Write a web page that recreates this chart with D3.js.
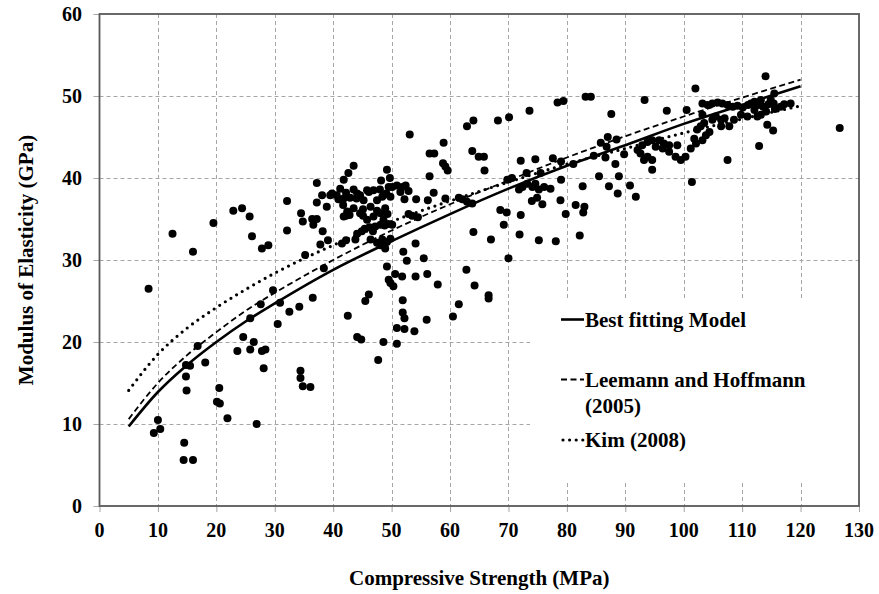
<!DOCTYPE html>
<html>
<head>
<meta charset="utf-8">
<script src="https://cdn.jsdelivr.net/npm/d3@7/dist/d3.min.js"></script>
<style>
  html, body { margin: 0; padding: 0; background: #fff; }
  svg { display: block; }
  svg text { font-family: "Liberation Serif", "Times New Roman", serif; font-weight: bold; fill: #000; }
</style>
</head>
<body>
<svg id="chart" width="879" height="594"></svg>
<script>
// Axis ticks
const strengthTicks = [0, 10, 20, 30, 40, 50, 60, 70, 80, 90, 100, 110, 120, 130];
const modulusTicks = [0, 10, 20, 30, 40, 50, 60];

// Test results: [compressive strength (MPa), modulus of elasticity (GPa)]
const specimens = [
  [8.4,26.5],[9.3,8.9],[10.0,10.5],[10.4,9.4],[12.5,33.2],[14.4,5.6],[14.5,7.7],[14.8,15.8],
  [14.9,14.1],[14.8,17.2],[15.5,17.1],[16.0,5.6],[16.0,31.0],[16.8,19.5],[18.1,17.5],[19.5,34.5],
  [20.1,12.7],[20.6,12.5],[20.5,14.4],[21.9,10.7],[22.9,36.0],[23.6,18.9],[24.4,36.3],[24.6,20.6],
  [25.7,35.3],[25.8,19.1],[25.8,22.9],[26.1,32.9],[26.4,20.0],[26.9,10.0],[27.6,24.6],[27.8,31.4],
  [27.8,18.9],[28.4,19.1],[28.1,16.8],[28.9,31.8],[29.7,26.3],
  [30.5,22.2],[30.9,24.8],[32.1,37.2],[32.1,33.6],[32.5,23.7],[34.2,24.3],[34.4,16.5],[34.4,15.6],
  [34.5,35.7],[34.8,34.7],[34.8,14.6],[35.2,30.6],[36.1,14.5],[36.4,35.0],[36.5,25.4],[36.6,34.3],
  [37.2,35.0],[37.2,37.0],[37.2,39.4],[37.8,31.9],[38.1,37.9],[38.2,33.5],[38.4,29.0],[38.9,36.5],
  [39.1,32.4],[39.5,37.9],[39.8,38.1],
  [40.6,37.9],[40.9,37.4],[41.2,38.7],[41.5,32.0],[41.7,36.7],[41.8,39.8],[41.8,37.5],[41.8,35.3],
  [42.2,38.2],[42.2,35.4],[42.2,32.4],[42.4,35.9],[42.5,23.2],[42.6,40.6],[42.8,35.5],[42.9,37.6],
  [43.5,41.5],[43.5,38.6],[43.5,36.3],[43.8,32.5],[44.1,38.1],[44.0,37.5],[44.1,33.2],[44.1,20.6],
  [44.6,35.7],[44.6,37.9],[44.8,20.3],[44.9,33.5],[45.1,36.2],[45.1,35.4],[45.2,37.3],[45.4,33.8],
  [45.5,25.0],[45.8,34.9],[45.8,38.5],[46.1,25.8],[46.1,38.3],[46.2,34.0],[46.4,36.5],[46.4,32.5],
  [46.8,33.5],[46.9,38.5],[46.9,35.3],[47.2,34.1],[47.5,36.0],[47.5,37.3],[47.5,32.1],[47.7,17.8],
  [48.0,38.6],[48.1,35.7],[48.1,34.3],[48.1,31.8],[48.2,39.7],[48.4,32.5],[48.4,37.7],[48.6,37.9],
  [48.6,34.9],[48.6,20.0],[48.8,34.2],[48.9,36.3],[48.9,31.4],[49.1,38.1],[49.2,41.0],[49.2,32.2],
  [49.2,29.2],[49.3,35.6],[49.4,34.4],[49.5,27.6],[49.5,38.9],[49.7,40.0],[49.8,37.7],[49.8,32.6],
  [49.8,27.2],[50.1,38.9],[50.1,34.3],[50.3,26.8],[50.6,28.3],[50.9,39.1],[50.9,21.7],[50.9,19.8],
  [51.5,38.3],[51.8,38.9],[51.8,28.0],[51.9,25.1],[51.9,23.6],[52.0,31.0],[52.4,39.1],[52.2,37.4],
  [52.2,22.9],[52.2,21.6],[52.6,29.9],[52.9,38.4],[52.9,35.6],[53.1,45.3],[53.5,35.4],[53.9,21.3],
  [54.1,32.0],[54.1,28.0],[54.2,37.4],[54.5,35.2],[55.5,30.2],[56.0,22.7],[56.1,28.3],[56.2,37.3],
  [56.5,40.2],[56.5,43.0],[57.3,43.0],[57.2,38.2],[57.9,27.0],[58.8,41.8],[58.9,44.3],[59.2,41.4],
  [59.6,40.9],[59.2,37.5],
  [60.5,23.1],[61.5,24.6],[61.5,37.6],[62.1,37.4],[62.8,28.8],[62.9,46.3],[62.9,37.1],[63.8,43.3],
  [63.8,36.9],[64.0,47.0],[64.0,33.4],[64.2,26.9],[64.9,42.6],[65.8,42.6],[65.9,40.9],[66.6,25.7],
  [66.6,25.3],[67.0,32.5],[68.2,47.0],[68.6,36.1],[69.2,34.3],[69.7,35.8],[69.8,39.8],[70.0,30.2],
  [70.1,47.4],
  [70.6,40.0],[71.8,38.6],[71.9,33.1],[72.1,42.1],[72.1,35.5],[72.4,38.9],[73.1,40.6],[73.2,39.3],
  [73.6,48.2],[74.0,37.2],[74.1,38.9],[74.6,42.3],[74.6,39.3],[74.9,37.6],[75.2,32.4],[75.2,38.6],
  [75.5,40.6],[75.8,36.8],[76.1,38.9],[77.2,38.7],[77.6,42.4],[78.1,32.3],[78.4,49.2],[78.9,37.3],
  [79.0,42.0],[79.0,39.8],[79.4,49.4],[79.8,35.6],
  [81.1,41.7],[81.5,36.7],[82.2,33.0],[82.7,39.0],[82.8,35.8],[83.0,36.5],[83.2,49.9],[84.1,49.9],
  [84.6,42.7],[85.5,40.2],[85.8,44.3],[86.6,42.5],[86.8,43.8],[87.0,45.0],[87.2,39.0],[87.6,47.8],
  [88.3,41.7],[88.5,44.7],[88.7,38.1],[88.9,40.2],[89.8,42.9],
  [90.8,39.1],[91.8,37.7],[92.1,43.4],[92.6,43.0],[92.9,44.0],[93.2,42.2],[93.3,49.5],[93.8,44.4],
  [93.8,42.6],[94.6,44.6],[94.6,42.2],[94.6,41.0],[95.2,43.8],[95.8,44.6],[96.4,43.6],[96.6,44.2],
  [97.1,48.2],[97.5,43.2],[97.5,44.0],[98.6,42.6],[98.9,44.0],[99.5,42.2],
  [100.3,42.6],[100.5,48.3],[101.2,43.6],[101.4,39.5],[101.8,44.8],[102.0,50.9],[102.1,44.2],[102.3,45.9],
  [102.9,46.3],[103.2,49.1],[103.2,47.7],[103.2,44.6],[103.5,46.7],[103.8,45.2],[104.1,48.9],[104.4,45.6],
  [104.9,49.1],[104.9,47.1],[105.5,47.5],[105.8,49.2],[106.4,47.1],[106.4,46.3],[106.6,49.1],[107.0,47.3],
  [107.5,48.9],[107.5,42.2],[107.8,46.3],[108.4,48.7],[108.6,47.1],[109.2,48.8],[109.8,47.7],
  [110.1,48.6],[110.9,47.5],[111.0,48.9],[111.5,49.1],[112.1,49.3],[112.1,48.3],[112.6,47.5],[112.7,48.9],
  [112.9,43.9],[113.2,47.7],[113.2,49.5],[113.6,48.7],[114.0,52.4],[114.1,48.1],[114.3,46.5],[114.5,49.0],
  [114.9,49.5],[115.3,45.8],[115.4,49.1],[115.5,50.3],[115.6,48.4],[116.6,48.7],[117.2,49.0],[118.3,49.1],
  [126.7,46.1]
];

// Model predictions sampled along the strength range
const modelStrength = [5, 10, 15, 20, 25, 30, 40, 50, 60, 70, 80, 90, 100, 110, 120];
const bestFitting   = [9.7, 13.9, 17.2, 20.0, 22.5, 24.7, 28.8, 32.3, 35.6, 38.7, 41.5, 44.0, 46.6, 48.9, 51.2];
const leemann2005   = [10.6, 15.0, 18.4, 21.2, 23.8, 26.0, 30.0, 33.6, 36.8, 39.7, 42.5, 45.1, 47.5, 49.8, 52.0];
const kim2008       = [14.1, 18.5, 21.7, 24.2, 26.4, 28.4, 31.8, 34.7, 37.2, 39.5, 41.7, 43.6, 45.5, 47.2, 48.8];

const models = [
  { name: "Best fitting Model", values: bestFitting, style: "solid" },
  { name: "Leemann and Hoffmann", name2: "(2005)", values: leemann2005, style: "dashed" },
  { name: "Kim (2008)", values: kim2008, style: "dotted" }
];

const svg = d3.select("#chart");
const plot = { left: 99.5, right: 859, top: 14, bottom: 506 };

const x = d3.scaleLinear().domain([0, 130]).range([plot.left, plot.right]);
const y = d3.scaleLinear().domain([0, 60]).range([plot.bottom, plot.top]);

svg.append("rect").attr("width", 879).attr("height", 594).attr("fill", "#fff");

// Dashed grid
const grid = svg.append("g").attr("stroke", "#a6a6a6").attr("stroke-width", 1)
  .attr("stroke-dasharray", "4,3").attr("fill", "none");
grid.selectAll("line.v").data(strengthTicks.slice(1, -1)).join("line")
  .attr("x1", d => Math.round(x(d)) + 0.5).attr("x2", d => Math.round(x(d)) + 0.5)
  .attr("y1", plot.top).attr("y2", plot.bottom);
grid.selectAll("line.h").data(modulusTicks.slice(1, -1)).join("line")
  .attr("y1", d => Math.round(y(d)) + 0.5).attr("y2", d => Math.round(y(d)) + 0.5)
  .attr("x1", plot.left).attr("x2", plot.right);

// Legend panel hides the grid behind it
svg.append("rect").attr("x", 530).attr("y", 300).attr("width", 328).attr("height", 181).attr("fill", "#fff");

// Axis ticks
const xAxis = d3.axisBottom(x).tickValues(strengthTicks).tickSize(6).tickFormat("");
svg.append("g").attr("transform", `translate(0,${plot.bottom})`).call(xAxis)
  .call(g => g.select(".domain").remove())
  .call(g => g.selectAll(".tick line").attr("stroke", "#a6a6a6"));
const yAxis = d3.axisLeft(y).tickValues(modulusTicks).tickSize(6).tickFormat("");
svg.append("g").attr("transform", `translate(${plot.left},0)`).call(yAxis)
  .call(g => g.select(".domain").remove())
  .call(g => g.selectAll(".tick line").attr("stroke", "#a6a6a6"));

// Plot frame
svg.append("rect").attr("x", plot.left).attr("y", plot.top)
  .attr("width", plot.right - plot.left).attr("height", plot.bottom - plot.top)
  .attr("fill", "none").attr("stroke", "#595959").attr("stroke-width", 1.8);

// Tick labels
svg.append("g").selectAll("text").data(strengthTicks).join("text")
  .attr("x", d => x(d)).attr("y", 537).attr("text-anchor", "middle")
  .attr("font-size", 20).text(d => d);
svg.append("g").selectAll("text").data(modulusTicks).join("text")
  .attr("x", 82).attr("y", d => y(d)).attr("dy", "0.34em").attr("text-anchor", "end")
  .attr("font-size", 20).text(d => d);

// Data points
svg.append("g").selectAll("circle").data(specimens).join("circle")
  .attr("cx", d => x(d[0])).attr("cy", d => y(d[1])).attr("r", 4).attr("fill", "#000");

// Model curves
const styles = {
  solid:  { width: 2.6, dash: null, cap: "butt" },
  dashed: { width: 1.8, dash: "6,3.5", cap: "butt" },
  dotted: { width: 3.2, dash: "0,6.6", cap: "round" }
};
const line = d3.line().x(d => x(d[0])).y(d => y(d[1])).curve(d3.curveMonotoneX);
models.forEach(m => {
  const s = styles[m.style];
  svg.append("path")
    .datum(modelStrength.map((v, i) => [v, m.values[i]]))
    .attr("d", line).attr("fill", "none").attr("stroke", "#000")
    .attr("stroke-width", s.width).attr("stroke-linecap", s.cap)
    .attr("stroke-dasharray", s.dash);
});

// Legend
const legendRows = [319.5, 379.5, 440];
models.forEach((m, i) => {
  const s = styles[m.style];
  const yy = legendRows[i];
  svg.append("line").attr("x1", m.style === "dotted" ? 563 : 561).attr("x2", 584)
    .attr("y1", yy).attr("y2", yy).attr("stroke", "#000")
    .attr("stroke-width", s.width).attr("stroke-linecap", s.cap)
    .attr("stroke-dasharray", s.dash);
  svg.append("text").attr("x", 585).attr("y", yy + 7).attr("font-size", 21).text(m.name);
  if (m.name2) {
    svg.append("text").attr("x", 585).attr("y", yy + 33).attr("font-size", 21).text(m.name2);
  }
});

// Axis titles
svg.append("text").attr("x", (plot.left + plot.right) / 2).attr("y", 585)
  .attr("text-anchor", "middle").attr("font-size", 21).text("Compressive Strength (MPa)");
svg.append("text").attr("transform", `translate(33,${(plot.top + plot.bottom) / 2}) rotate(-90)`)
  .attr("text-anchor", "middle").attr("font-size", 21).text("Modulus of Elasticity (GPa)");
</script>
</body>
</html>
